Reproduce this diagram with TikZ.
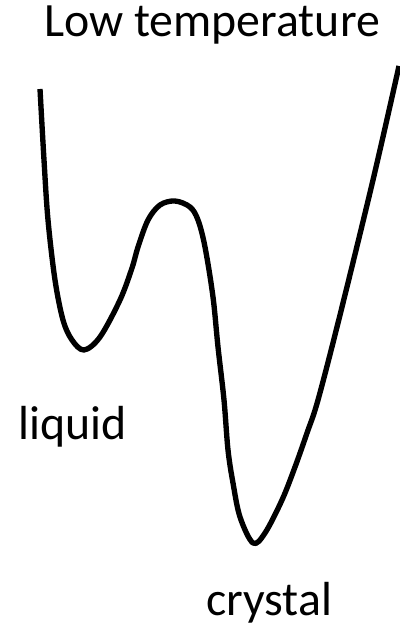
\documentclass[tikz,border=0pt]{standalone}
\usepackage{fontspec}
\setmainfont{Carlito}

\tikzset{
  curve/.style={line width=3.8pt, line join=round},
  lbl/.style={anchor=base, inner sep=0pt, font=\fontsize{34}{40}\selectfont}
}

\begin{document}
\begin{tikzpicture}[x=0.025cm, y=-0.025cm]
    % frame of the picture, pixel units from top left
    \useasboundingbox (0,0) rectangle (400,630);

    % energy landscape
    \draw[curve] plot[smooth, tension=0.55] coordinates {
        (40,89) (44,160) (48,220) (55,280) (63,320) (72,340) (84,350)
        (100,337) (120,300) (132,268) (138,247) (148,220) (160,205)
        (175,201) (190,207) (198,220) (205,247) (213,297) (218,347)
        (224,400) (228,450) (233,483) (240,517) (253,543) (265,533)
        (282,500) (295,467) (307,433) (318,400) (340,315) (373,180)
        (399,66)};

    \node[lbl] (title) at (212,37) {Low temperature};
    \node[lbl] (liq) at (73,439) {liquid};
    \node[lbl] (cry) at (269,615) {crystal};
\end{tikzpicture}
\end{document}
